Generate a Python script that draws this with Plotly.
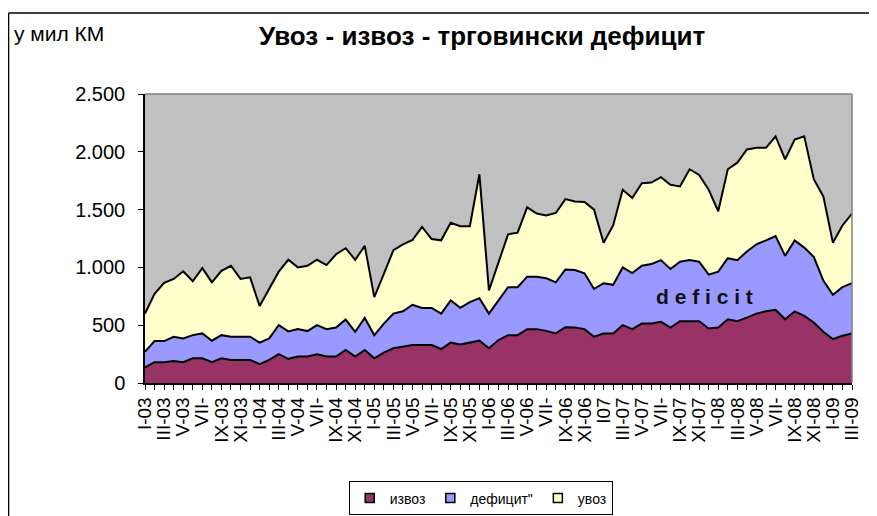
import plotly.graph_objects as go

# Month labels (every second month is labelled)
month_labels = ["I-03", "", "III-03", "", "V-03", "", "VII-", "", "IX-03", "", "XI-03", "",
                "I-04", "", "III-04", "", "V-04", "", "VII-", "", "IX-04", "", "XI-04", "",
                "I-05", "", "III-05", "", "V-05", "", "VII-", "", "IX-05", "", "XI-05", "",
                "I-06", "", "III-06", "", "V-06", "", "VII-", "", "IX-06", "", "XI-06", "",
                "I07", "", "III-07", "", "V-07", "", "VII-", "", "IX-07", "", "XI-07", "",
                "I-08", "", "III-08", "", "V-08", "", "VII-", "", "IX-08", "", "XI-08", "",
                "I-09", "", "III-09"]

# Upper boundary of each layer (mil KM)
izvoz = [134, 180, 180, 191, 180, 214, 214, 180, 214, 200, 200, 200, 163, 200, 249, 209,
         229, 229, 249, 229, 229, 286, 229, 286, 214, 263, 300, 314, 329, 329, 329,
         294, 349, 334, 349, 366, 300, 371, 414, 414, 466, 466, 451, 429, 483,
         480, 466, 400, 429, 429, 500, 466, 514, 514, 529, 480, 534, 534, 534, 471,
         480, 551, 534, 566, 600, 620, 634, 551, 620, 580, 523, 443, 380, 409, 429]

deficit_level = [271, 363, 363, 400, 386, 414, 429, 366, 414, 400, 400, 400, 349, 386, 500, 446,
                 466, 449, 500, 466, 480, 549, 443, 563, 414, 514, 600, 620, 677, 649, 649,
                 600, 714, 651, 700, 734, 600, 720, 829, 829, 920, 920, 906, 871, 982,
                 977, 949, 814, 863, 849, 1000, 951, 1014, 1029, 1063, 986, 1049, 1063, 1049, 937,
                 963, 1080, 1063, 1137, 1200, 1234, 1271, 1100, 1234, 1171, 1091, 886, 763, 829, 863]

uvoz_level = [600, 771, 866, 900, 966, 880, 994, 871, 971, 1014, 900, 914, 666, 814, 963, 1066,
              1000, 1014, 1066, 1020, 1114, 1166, 1066, 1186, 743, 943, 1149, 1200, 1237, 1351, 1245,
              1234, 1386, 1357, 1357, 1806, 800, 1043, 1286, 1300, 1520, 1466, 1449, 1471, 1591,
              1571, 1566, 1500, 1214, 1363, 1671, 1600, 1729, 1734, 1780, 1714, 1700, 1849, 1800, 1671,
              1486, 1849, 1906, 2020, 2034, 2034, 2134, 1934, 2106, 2134, 1763, 1614, 1214, 1363, 1466]

series_names = ["извоз", "дефицит\"", "увоз"]
y_tick_vals = [0, 500, 1000, 1500, 2000, 2500]
y_tick_text = ["0", "500", "1.000", "1.500", "2.000", "2.500"]

colors = ["#993366", "#9999FF", "#FFFFCC"]
x = list(range(len(month_labels)))

FONT = "Liberation Sans, Arial, sans-serif"
fig = go.Figure()

levels = [izvoz, deficit_level, uvoz_level]
fills = ["tozeroy", "tonexty", "tonexty"]
for name, lv, col, fl in zip(series_names, levels, colors, fills):
    fig.add_trace(go.Scatter(x=x, y=lv, mode="lines", fill=fl, fillcolor=col,
                             line=dict(color="black", width=2), showlegend=False,
                             hoverinfo="skip", name=name))

# legend entries as square swatches
for name, col in zip(series_names, colors):
    fig.add_trace(go.Scatter(x=[None], y=[None], mode="markers", name=name,
                             marker=dict(symbol="square", size=9, color=col,
                                         line=dict(color="black", width=1.5))))

fig.update_layout(
    width=869, height=508,
    margin=dict(l=137, r=25, t=86, b=133),
    paper_bgcolor="white",
    plot_bgcolor="#C0C0C0",
    font=dict(family=FONT, color="black"),
    showlegend=True,
    legend=dict(orientation="h", xref="container", yref="container",
                x=0.544, xanchor="center", y=0.068, yanchor="top",
                bordercolor="black", borderwidth=1, bgcolor="white", traceorder="normal",
                font=dict(size=14, family=FONT), itemwidth=30, tracegroupgap=0),
    xaxis=dict(range=[0, len(x) - 1], tickmode="array", tickvals=x, ticktext=month_labels,
               tickangle=-90, ticks="outside", ticklen=5, tickcolor="black",
               showline=True, linecolor="black", linewidth=1.5, showgrid=False,
               zeroline=False, tickfont=dict(size=19, family=FONT)),
    yaxis=dict(range=[0, 2500], tickmode="array", tickvals=y_tick_vals, ticktext=y_tick_text,
               ticks="outside", ticklen=5, tickcolor="black", ticklabelstandoff=9,
               showline=True, linecolor="black", linewidth=1.5, showgrid=False,
               zeroline=False, tickfont=dict(size=20, family=FONT)),
    shapes=[
        dict(type="line", xref="paper", yref="paper", x0=-0.193, x1=-0.193, y0=-0.8, y1=1.28,
             line=dict(color="black", width=1.5), layer="below"),
        dict(type="line", xref="paper", yref="paper", x0=-0.193, x1=1.3, y0=1.28, y1=1.28,
             line=dict(color="black", width=1.5), layer="below"),
        dict(type="line", xref="paper", yref="paper", x0=0, x1=1, y0=1, y1=1,
             line=dict(color="#808080", width=1.5)),
        dict(type="line", xref="paper", yref="paper", x0=1, x1=1, y0=0, y1=1,
             line=dict(color="#808080", width=1.5)),
    ],
    annotations=[
        dict(text="<b>Увоз - извоз - трговински дефицит</b>", xref="paper", yref="paper",
             x=0.478, y=1.2, xanchor="center", yanchor="middle", showarrow=False,
             font=dict(size=26, family=FONT)),
        dict(text="у мил КМ", xref="paper", yref="paper", x=-0.188, y=1.211,
             xanchor="left", yanchor="middle", showarrow=False, font=dict(size=21, family=FONT)),
        dict(text="<b>d e f i c i t</b>", xref="x", yref="y", x=58.6, y=752,
             xanchor="center", yanchor="middle", showarrow=False,
             font=dict(size=21, family=FONT, color="#111111")),
    ],
)

fig.write_html("out.html")
